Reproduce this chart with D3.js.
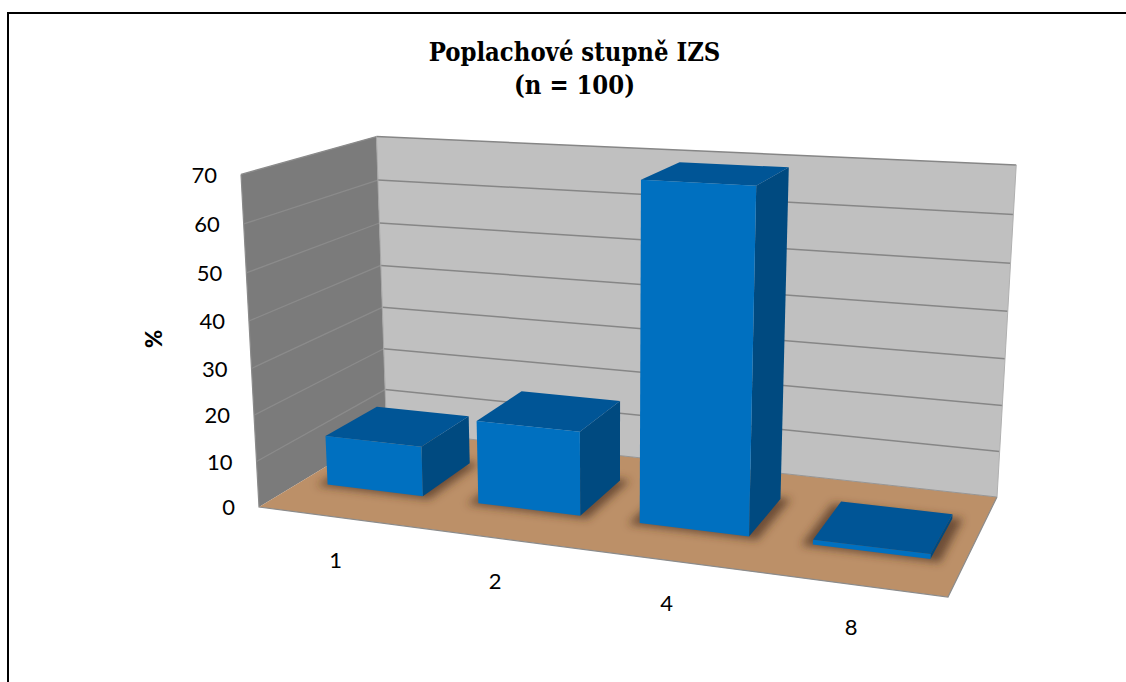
<!DOCTYPE html>
<html><head><meta charset="utf-8">
<script src="https://cdn.jsdelivr.net/npm/d3@7"></script>
<style>html,body{margin:0;padding:0;background:#fff}svg{display:block}</style>
</head><body><svg id="c" width="1126" height="682"></svg>
<script>
const categories = ["1","2","4","8"];
const values = [11,18,70,1];
const valueTicks = [0,10,20,30,40,50,60,70];
const titleLines = ["Poplachové stupně IZS","(n = 100)"];
const yTitle = "%";

// Screen position of the chart box corners
const box = {
  floor:{bl:[386.5,430],br:[997,497],fr:[948,597],fl:[259,507]},
  top:{bl:[377.5,136],br:[1016,168],fl:[240,172]}
};
function solve(A,b){
  const n=b.length,M=A.map((r,i)=>[...r,b[i]]);
  for(let i=0;i<n;i++){
    let p=i;for(let k=i+1;k<n;k++)if(Math.abs(M[k][i])>Math.abs(M[p][i]))p=k;
    [M[i],M[p]]=[M[p],M[i]];
    for(let k=0;k<n;k++)if(k!==i){const f=M[k][i]/M[i][i];for(let j=i;j<=n;j++)M[k][j]-=f*M[i][j];}
  }
  return M.map((r,i)=>r[n]/r[i]);
}
// floor homography (u right 0..1, w back 0..1)
const src=[[0,0,box.floor.fl],[1,0,box.floor.fr],[1,1,box.floor.br],[0,1,box.floor.bl]];
const A=[],B=[];
src.forEach(([u,w,[x,y]])=>{
  A.push([u,w,1,0,0,0,-u*x,-w*x]);B.push(x);
  A.push([0,0,0,u,w,1,-u*y,-w*y]);B.push(y);
});
const h=solve(A,B);
const floorVec=(u,w)=>[h[0]*u+h[1]*w+h[2],h[3]*u+h[4]*w+h[5],h[6]*u+h[7]*w+1];
// vertical column
const vp=[[0,1,box.top.bl],[1,1,box.top.br],[0,0,box.top.fl]];
const R=[],S=[];
vp.forEach(([u,w,[x,y]])=>{
  const X=floorVec(u,w);
  R.push([1,0,-x]);S.push(x*X[2]-X[0]);
  R.push([0,1,-y]);S.push(y*X[2]-X[1]);
});
const Rt=[0,1,2].map(i=>[0,1,2].map(j=>d3.sum(R,r=>r[i]*r[j])));
const St=[0,1,2].map(i=>d3.sum(R,(r,k)=>r[i]*S[k]));
const v3=solve(Rt,St);
function project(u,w,v){
  const X=floorVec(u,w);
  const d=X[2]+v3[2]*v;
  return [(X[0]+v3[0]*v)/d,(X[1]+v3[1]*v)/d];
}

const xBand=d3.scaleBand().domain(categories).range([0,1]).paddingInner(0.36).paddingOuter(0.18);
const depth=d3.scaleLinear().domain([0,1]).range([0.305,0.715]);
const yVal=d3.scaleLinear().domain([0,70]).range([0,1]);

const svg=d3.select("#c");
const line=d3.line();
const poly=(pts)=>line(pts)+"Z";
const defs=svg.append("defs");
defs.append("filter").attr("id","blur").attr("x","-30%").attr("y","-30%").attr("width","160%").attr("height","160%")
  .append("feGaussianBlur").attr("stdDeviation",4.5);

// border
svg.append("path").attr("d",line([[8,682],[8,13],[1126,13]])).attr("fill","none").attr("stroke","#000").attr("stroke-width",2);

// walls & floor
const G=svg.append("g");
G.append("path").attr("d",poly([project(0,0,0),project(0,1,0),project(0,1,1),project(0,0,1)])).attr("fill","#7b7b7b");
G.append("path").attr("d",poly([project(0,1,0),project(1,1,0),project(1,1,1),project(0,1,1)])).attr("fill","#c0c0c0");
G.append("path").attr("d",poly([project(0,0,0),project(1,0,0),project(1,1,0),project(0,1,0)])).attr("fill","#bc9068");

// gridlines
valueTicks.forEach(t=>{
  if(t===0) return;
  const v=yVal(t);
  G.append("path").attr("d",line([project(0,0,v),project(0,1,v)])).attr("stroke","#8b8b8b").attr("stroke-width",1.3).attr("fill","none");
  G.append("path").attr("d",line([project(0,1,v),project(1,1,v)])).attr("stroke","#868686").attr("stroke-width",1.5).attr("fill","none");
});
// box edges
G.append("path").attr("d",line([project(0,1,1),project(0,1,0)])).attr("stroke","#a6a6a6").attr("stroke-width",1).attr("fill","none");
G.append("path").attr("d",line([project(0,0,1),project(0,0,0),project(1,0,0),project(1,1,0)])).attr("stroke","#8b8b8b").attr("stroke-width",1.2).attr("fill","none");
G.append("path").attr("d",line([project(0,1,0),project(1,1,0)])).attr("stroke","#969696").attr("stroke-width",1).attr("fill","none");
G.append("path").attr("d",line([project(1,1,0),project(1,1,1)])).attr("stroke","#b0b0b0").attr("stroke-width",1).attr("fill","none");

// shadows
const pad=0.014;
const barsG=svg.append("g");
categories.forEach((c,i)=>{
  const u0=xBand(c)-pad,u1=xBand(c)+xBand.bandwidth()+pad,w0=depth(0)-pad*1.5,w1=depth(1)+pad;
  barsG.append("path").attr("d",poly([project(u0,w0,0),project(u1,w0,0),project(u1,w1,0),project(u0,w1,0)]))
    .attr("fill","#4f3420").attr("fill-opacity",0.72).attr("filter","url(#blur)");
});
// bars
categories.forEach((c,i)=>{
  const u0=xBand(c),u1=u0+xBand.bandwidth(),w0=depth(0),w1=depth(1),v=yVal(values[i]);
  const g=barsG.append("g").attr("class","bar");
  g.append("path").attr("d",poly([project(u1,w0,0),project(u1,w1,0),project(u1,w1,v),project(u1,w0,v)])).attr("fill","#004a80");
  g.append("path").attr("d",poly([project(u0,w0,v),project(u1,w0,v),project(u1,w1,v),project(u0,w1,v)])).attr("fill","#005596");
  g.append("path").attr("d",poly([project(u0,w0,0),project(u1,w0,0),project(u1,w0,v),project(u0,w0,v)])).attr("fill","#0070c0");
});

// text
const sans="Lato, sans-serif";
const serif="'DejaVu Serif',serif";
titleLines.forEach((t,i)=>{
  svg.append("text").attr("x",574.5).attr("y",[61,94][i]).attr("text-anchor","middle").attr("font-family",serif).attr("font-stretch","condensed").attr("font-weight","bold").attr("font-size",25.4).attr("fill","#000").text(t);
});
valueTicks.forEach(t=>{
  const p=project(0,0,yVal(t));
  svg.append("text").attr("x",p[0]-24).attr("y",p[1]+8.2).attr("text-anchor","end").attr("font-family",sans).attr("font-size",22).attr("fill","#000").text(t);
});
svg.append("text").attr("transform","translate(162,339) rotate(-90)").attr("text-anchor","middle").attr("font-family",sans).attr("font-weight",900).attr("font-size",22).attr("fill","#000").text(yTitle);
categories.forEach((c,i)=>{
  const p=project(xBand(c)+xBand.bandwidth()/2,0,0);
  svg.append("text").attr("x",p[0]+1).attr("y",p[1]+51).attr("text-anchor","middle").attr("font-family",sans).attr("font-size",22).attr("fill","#000").text(c);
});
</script></body></html>
